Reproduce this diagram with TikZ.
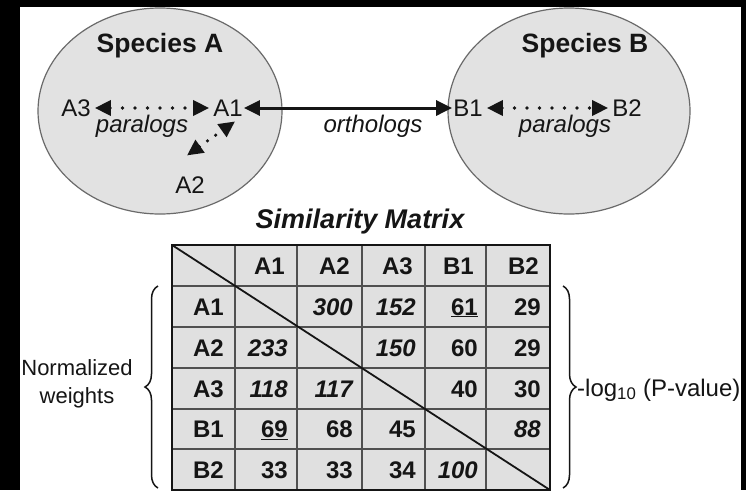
\documentclass[tikz,border=0pt]{standalone}
\usepackage{fontspec}
\setmainfont{Liberation Sans}
\usetikzlibrary{arrows.meta,decorations.pathreplacing,calc}
\definecolor{ellfill}{HTML}{E2E2E2}
\definecolor{ellline}{HTML}{6A6A6A}
\definecolor{cellfill}{HTML}{E0E0E0}
\definecolor{ink}{HTML}{151515}
\definecolor{gridc}{HTML}{505050}
\tikzset{
  lbl/.style={font=\fontsize{24}{28}\selectfont, text=ink, inner sep=1pt},
  ilbl/.style={font=\fontsize{24}{28}\selectfont\itshape, text=ink, inner sep=1pt},
  spc/.style={font=\fontsize{26.5}{30}\selectfont\bfseries, text=ink, inner sep=1pt},
  tipA/.tip={Triangle[length=16pt 0 0,width=15pt 0 0]},
  para/.style={draw=ink, line width=3.6pt, dash pattern=on 0pt off 12.5pt, line cap=round, tipA-tipA},
  ortho/.style={draw=ink, line width=3pt, tipA-tipA},
  spec/.style={fill=ellfill, draw=ellline, line width=1.2pt},
  cell/.style={font=\fontsize{24}{28}\selectfont\bfseries, text=ink, inner sep=0pt, anchor=base east},
  icell/.style={cell, font=\fontsize{24}{28}\selectfont\bfseries\itshape},
  gridl/.style={draw=gridc, line width=1.1pt},
  outerl/.style={draw=ink, line width=1.8pt},
  brc/.style={draw=ink, line width=1.5pt, decorate, decoration={brace, amplitude=13pt}},
  side/.style={font=\fontsize{22}{28}\selectfont, text=ink, inner sep=0pt},
}
\begin{document}
\begin{tikzpicture}[x=1pt,y=-1pt]
\useasboundingbox (0,0) rectangle (746,490);
\fill[black] (0,0) rectangle (746,490);
\fill[white] (20,7) rectangle (741,490);

% species ellipses
\path[spec] (160,111) ellipse [x radius=122, y radius=103];
\path[spec] (569,111) ellipse [x radius=121, y radius=103];

\node[spc] (spA) at (160,46) {Species A};
\node[spc] (spB) at (585,46) {Species B};

\node[lbl] (A3) at (76,108) {A3};
\node[lbl] (A1) at (228,108) {A1};
\node[lbl] (A2) at (190,185) {A2};
\node[lbl] (B1) at (468,108) {B1};
\node[lbl] (B2) at (627,108) {B2};

\node[ilbl] (parA) at (142,126) {paralogs};
\node[ilbl] (orth) at (373,126) {orthologs};
\node[ilbl] (parB) at (565,126) {paralogs};

\draw[para, shorten <=3pt, shorten >=3pt] (A3) -- (A1);
\draw[para, shorten <=3pt, shorten >=3pt] (B1) -- (B2);
\draw[ortho] (A1.east) -- (B1.west);
\draw[para, dash pattern=on 0pt off 10pt] ([xshift=-3pt,yshift=20pt]A2.north) -- ([xshift=7pt,yshift=-4pt]A1.south);

% title
\node[font=\fontsize{27}{30}\selectfont\bfseries\itshape, text=ink] (ttl) at (360,222) {Similarity Matrix};

% table
\fill[cellfill] (172,245) rectangle (550,490);
\foreach \xx in {235,297,362,425,486} \draw[gridl] (\xx,245) -- (\xx,490);
\foreach \yy in {286,327,368,409,449} \draw[gridl] (172,\yy) -- (550,\yy);
\draw[outerl] (172,245) rectangle (550,490);
\coordinate (tl) at (172,245);
\coordinate (br) at (550,490);
\draw[ink, line width=1.8pt] (tl) -- (br);

% headers (baseline = row centre + 8.5)
\node[cell] (hA1) at (285,274) {A1};
\node[cell] (hA2) at (350,274) {A2};
\node[cell] (hA3) at (413,274) {A3};
\node[cell] (hB1) at (474,274) {B1};
\node[cell] (hB2) at (539,274) {B2};

\node[cell] (rA1) at (224,315) {A1};
\node[cell] (rA2) at (224,356) {A2};
\node[cell] (rA3) at (224,397) {A3};
\node[cell] (rB1) at (224,437.5) {B1};
\node[cell] (rB2) at (224,478) {B2};

% row A1
\node[icell] (c12) at (353,315) {300};
\node[icell] (c13) at (416,315) {152};
\node[cell]  (c14) at (478,315) {\underline{61}};
\node[cell]  (c15) at (541,315) {29};
% row A2
\node[icell] (c21) at (288,356) {233};
\node[icell] (c23) at (416,356) {150};
\node[cell]  (c24) at (478,356) {60};
\node[cell]  (c25) at (541,356) {29};
% row A3
\node[icell] (c31) at (288,397) {118};
\node[icell] (c32) at (353,397) {117};
\node[cell]  (c34) at (478,397) {40};
\node[cell]  (c35) at (541,397) {30};
% row B1
\node[cell]  (c41) at (288,437.5) {\underline{69}};
\node[cell]  (c42) at (353,437.5) {68};
\node[cell]  (c43) at (416,437.5) {45};
\node[icell] (c45) at (541,437.5) {88};
% row B2
\node[cell]  (c51) at (288,478) {33};
\node[cell]  (c52) at (353,478) {33};
\node[cell]  (c53) at (416,478) {34};
\node[icell] (c54) at (478,478) {100};

% braces
\coordinate (lb1) at (158,488);
\coordinate (lb2) at (158,286);
\coordinate (rb1) at (563,286);
\coordinate (rb2) at (563,488);
\draw[brc] (lb1) -- (lb2);
\draw[brc] (rb1) -- (rb2);

\node[side, align=center] (nw) at (77,384) {Normalized\\weights};
\node[side, anchor=west, font=\fontsize{24}{28}\selectfont] (pv) at (577,390) {-log\textsubscript{10} (P-value)};
\end{tikzpicture}
\end{document}
